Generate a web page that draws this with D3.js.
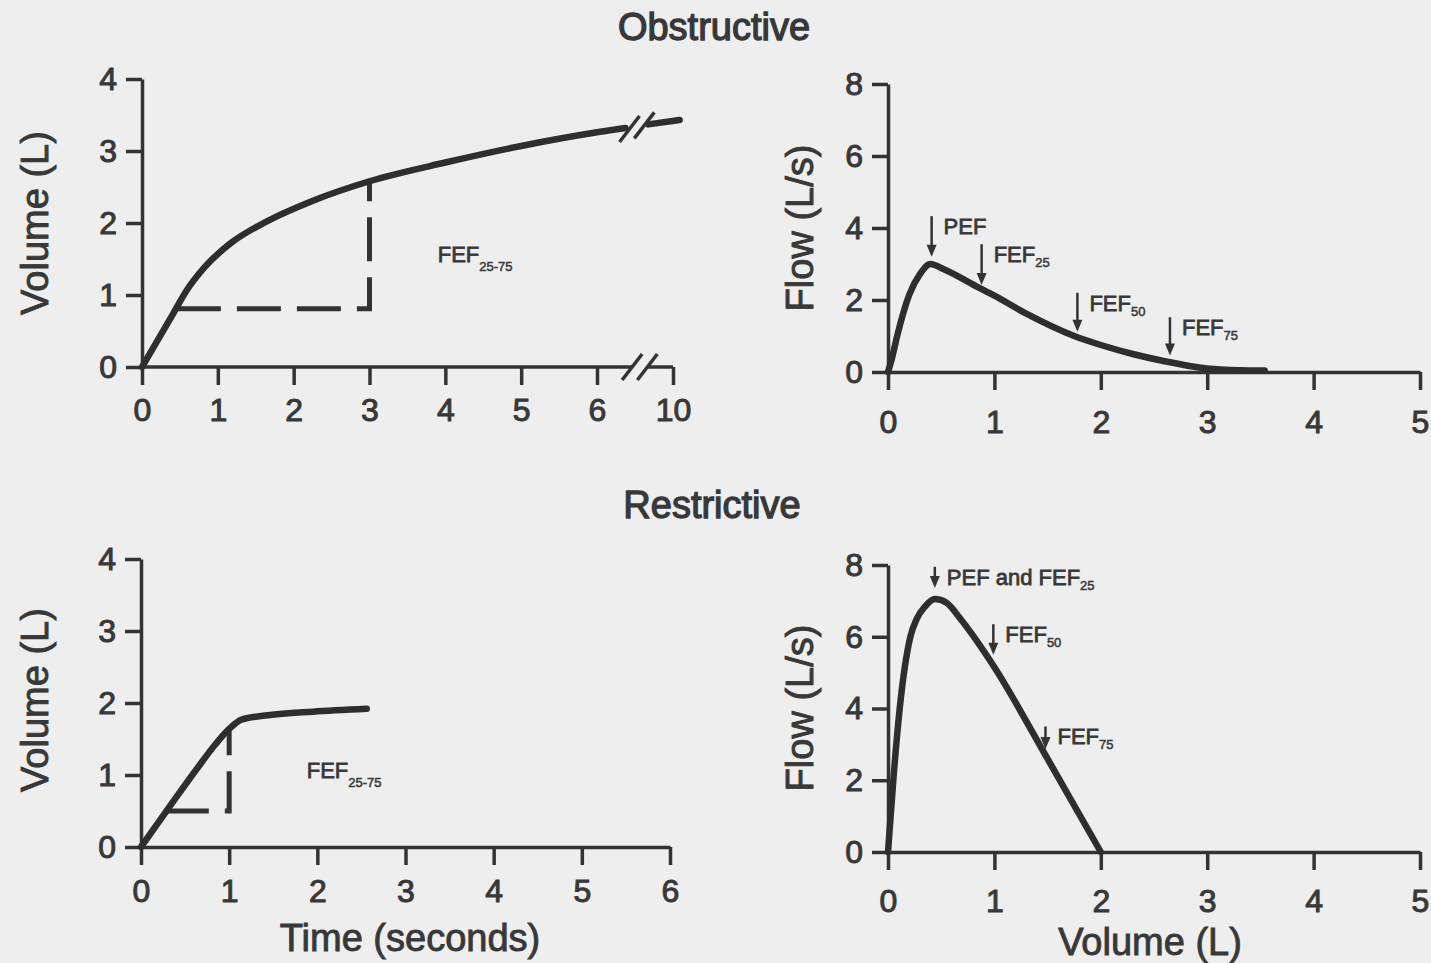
<!DOCTYPE html>
<html lang="en">
<head>
<meta charset="UTF-8">
<script src="https://d3js.org/d3.v7.min.js"></script>
<title>Spirometry: obstructive vs restrictive</title>
<style>
    body { margin: 0; background: #eeeeee; }
    svg text { font-family: "Liberation Sans", Arial, Helvetica, sans-serif; fill: #383838; }
    .axis path, .axis line { stroke: #333; stroke-width: 3.5px; }
    .axis text { font-size: 32px; fill: #383838; stroke: #383838; stroke-width: 1px; }
    .curve { fill: none; stroke: #2e2e2e; stroke-width: 6.5px; stroke-linecap: round; }
    .dash { fill: none; stroke: #333; stroke-width: 5px; stroke-dasharray: 44 16; }
    .title { font-size: 38px; stroke: #383838; stroke-width: 1.3px; }
    .label { font-size: 38px; stroke: #383838; stroke-width: 0.9px; }
    .note { font-size: 22px; stroke: #383838; stroke-width: 0.8px; }
    .sub { font-size: 13px; stroke-width: 0.5px; }
</style>
</head>
<body>
<script>
// ---- data ----
// Obstructive, volume-time (seconds, litres); axis breaks between 6 and 10 s
var obsTime = [0, 0.4, 0.58, 0.82, 1.17, 1.64, 2.23, 3.0, 4.0, 5.0, 6.0, 7.5];
var obsVolume = [0, 0.72, 1.05, 1.38, 1.72, 2.02, 2.3, 2.58, 2.84, 3.07, 3.26, 3.32];
var obsTailTime = [8.7, 10.35];
var obsTailVolume = [3.37, 3.43];
var obsTimeTicks = [0, 1, 2, 3, 4, 5, 6, 10];
var obsFef = { t0: 0.46, t1: 3.0, v0: 0.81, v1: 2.58 };

// Obstructive, flow-volume
var obsFvVolume = [0, 0.03, 0.09, 0.2, 0.3, 0.4, 0.52, 0.85, 1.0, 1.3, 1.75, 2.0, 2.3, 2.6, 3.0, 3.3, 3.54];
var obsFvFlow = [0, 0.3, 1.05, 2.15, 2.72, 3.0, 2.86, 2.35, 2.12, 1.62, 1.0, 0.75, 0.5, 0.3, 0.1, 0.05, 0.04];
var obsMarkText = ["PEF", "FEF", "FEF", "FEF"];
var obsMarkSub = ["", "25", "50", "75"];
var obsMarkVol = [0.41, 0.88, 1.78, 2.65];
var obsMarkTop = [4.33, 3.55, 2.2, 1.52];
var obsMarkTip = [3.2, 2.42, 1.12, 0.46];

// Restrictive, volume-time
var resTime = [0, 0.33, 0.63, 0.84, 1.0, 1.14, 1.44, 1.95, 2.56];
var resVolume = [0, 0.57, 1.08, 1.42, 1.64, 1.77, 1.83, 1.88, 1.92];
var resTimeTicks = [0, 1, 2, 3, 4, 5, 6];
var resFef = { t0: 0.27, t1: 1.0, v0: 0.5, v1: 1.64 };

// Restrictive, flow-volume
var resFvVolume = [0, 0.02, 0.05, 0.11, 0.21, 0.27, 0.35, 0.44, 0.55, 0.68, 1.0, 1.48, 2.0];
var resFvFlow = [0, 0.8, 2.0, 4.0, 6.0, 6.5, 6.85, 7.05, 6.95, 6.5, 5.15, 2.7, 0];
var resMarkText = ["PEF and FEF", "FEF", "FEF"];
var resMarkSub = ["25", "50", "75"];
var resMarkVol = [0.44, 0.99, 1.48];
var resMarkTop = [7.95, 6.35, 3.5];
var resMarkTip = [7.36, 5.5, 2.87];

var volTicks = [0, 1, 2, 3, 4];
var flowTicks = [0, 2, 4, 6, 8];
var fvVolTicks = [0, 1, 2, 3, 4, 5];

var width = 1431, height = 963;
var fmt = d3.format("d");

var svg = d3.select("body").append("svg")
    .attr("width", width)
    .attr("height", height);

svg.append("rect").attr("width", width).attr("height", height).attr("fill", "#eeeeee");

var line = d3.line().curve(d3.curveMonotoneX);

// draws axes for a panel, returns the group
function drawAxes(x, y, xTicks, yTicks, labelPad, opts) {
    opts = opts || {};
    var g = svg.append("g");
    var xAxis = d3.axisBottom(x).tickValues(xTicks).tickFormat(fmt)
        .tickSize(18).tickSizeOuter(0).tickPadding(labelPad);
    var gx = g.append("g").attr("class", "axis")
        .attr("transform", "translate(0," + y(0) + ")")
        .call(xAxis);
    if (opts.breakAt) {
        // broken axis: drop the domain line and draw two pieces
        gx.select(".domain").remove();
        gx.append("line").attr("x1", x(0)).attr("x2", x(opts.breakAt[0]));
        gx.append("line").attr("x1", x(opts.breakAt[1])).attr("x2", x(xTicks[xTicks.length - 1]));
        opts.breakAt.forEach(function (b) { slash(gx, x(b), 0); });
    }
    g.append("g").attr("class", "axis")
        .attr("transform", "translate(" + x(0) + ",0)")
        .call(d3.axisLeft(y).tickValues(yTicks).tickFormat(fmt)
            .tickSize(16).tickSizeOuter(0).tickPadding(9));
    g.selectAll(".axis text").attr("font-family", null).attr("font-size", null);
    return g;
}

function slash(g, cx, cy) {
    g.append("line")
        .attr("x1", cx - 10).attr("y1", cy + 13)
        .attr("x2", cx + 10).attr("y2", cy - 13)
        .attr("stroke", "#333").attr("stroke-width", 3.5);
}

function fefLabel(g, x, y, t, v) {
    var txt = g.append("text").attr("class", "note").attr("x", x(t)).attr("y", y(v)).text("FEF");
    txt.append("tspan").attr("class", "sub").attr("dy", 9).text("25-75");
}

function marks(g, x, y, text, sub, vol, top, tip) {
    vol.forEach(function (v, i) {
        var cx = x(v), y0 = y(top[i]), y1 = y(tip[i]);
        g.append("line").attr("x1", cx).attr("x2", cx).attr("y1", y0).attr("y2", y1 - 8)
            .attr("stroke", "#333").attr("stroke-width", 2.5);
        g.append("path")
            .attr("d", "M" + cx + "," + y1 + "L" + (cx - 5) + "," + (y1 - 12) + "L" + (cx + 5) + "," + (y1 - 12) + "Z")
            .attr("fill", "#333");
        var t = g.append("text").attr("class", "note").attr("x", cx + 12).attr("y", y0 + 18).text(text[i]);
        if (sub[i]) t.append("tspan").attr("class", "sub").attr("dy", 5).text(sub[i]);
    });
}

function yTitle(text, cx, cy) {
    svg.append("text").attr("class", "label")
        .attr("transform", "translate(" + cx + "," + cy + ") rotate(-90)")
        .attr("text-anchor", "middle").attr("dy", "0.35em").text(text);
}

function centerText(cls, text, cx, cy) {
    svg.append("text").attr("class", cls).attr("x", cx).attr("y", cy)
        .attr("text-anchor", "middle").attr("dy", "0.35em").text(text);
}

/*** Obstructive: volume-time ***/
var x1 = d3.scaleLinear().domain([0, 6, 10]).range([142, 597, 673]);
var y1 = d3.scaleLinear().domain([0, 4]).range([367, 79]);
var g1 = drawAxes(x1, y1, obsTimeTicks, volTicks, 13, { breakAt: [7.85, 8.65] });
g1.append("path").attr("class", "dash")
    .attr("d", line([[x1(obsFef.t0), y1(obsFef.v0)], [x1(obsFef.t1), y1(obsFef.v0)]]) +
        "L" + x1(obsFef.t1) + "," + y1(obsFef.v1))
    .attr("stroke-linejoin", "miter");
g1.append("path").attr("class", "curve")
    .attr("d", line(obsTime.map(function (t, i) { return [x1(t), y1(obsVolume[i])]; })));
g1.append("path").attr("class", "curve")
    .attr("d", line(obsTailTime.map(function (t, i) { return [x1(t), y1(obsTailVolume[i])]; })));
slash(g1, x1(obsTime[obsTime.length - 1]) + 4, y1(obsVolume[obsVolume.length - 1]) + 1);
slash(g1, x1(obsTailTime[0]) - 4, y1(obsTailVolume[0]) + 1);
fefLabel(g1, x1, y1, 3.9, 1.46);

/*** Obstructive: flow-volume ***/
var x2 = d3.scaleLinear().domain([0, 5]).range([888, 1420]);
var y2 = d3.scaleLinear().domain([0, 8]).range([372, 84]);
var g2 = drawAxes(x2, y2, fvVolTicks, flowTicks, 20);
g2.append("path").attr("class", "curve")
    .attr("d", line(obsFvVolume.map(function (v, i) { return [x2(v), y2(obsFvFlow[i])]; })));
marks(g2, x2, y2, obsMarkText, obsMarkSub, obsMarkVol, obsMarkTop, obsMarkTip);

/*** Restrictive: volume-time ***/
var x3 = d3.scaleLinear().domain([0, 6]).range([141, 670]);
var y3 = d3.scaleLinear().domain([0, 4]).range([847, 559]);
var g3 = drawAxes(x3, y3, resTimeTicks, volTicks, 14);
g3.append("path").attr("class", "dash")
    .attr("d", line([[x3(resFef.t0), y3(resFef.v0)], [x3(resFef.t1), y3(resFef.v0)]]) +
        "L" + x3(resFef.t1) + "," + y3(resFef.v1));
g3.append("path").attr("class", "curve")
    .attr("d", line(resTime.map(function (t, i) { return [x3(t), y3(resVolume[i])]; })));
fefLabel(g3, x3, y3, 1.88, 0.96);

/*** Restrictive: flow-volume ***/
var x4 = d3.scaleLinear().domain([0, 5]).range([888, 1420]);
var y4 = d3.scaleLinear().domain([0, 8]).range([852, 565]);
var g4 = drawAxes(x4, y4, fvVolTicks, flowTicks, 19);
g4.append("path").attr("class", "curve")
    .attr("d", line(resFvVolume.map(function (v, i) { return [x4(v), y4(resFvFlow[i])]; })));
marks(g4, x4, y4, resMarkText, resMarkSub, resMarkVol, resMarkTop, resMarkTip);

// titles and axis labels
centerText("title", "Obstructive", 714, 27);
centerText("title", "Restrictive", 712, 505);
yTitle("Volume (L)", 35, 223);
yTitle("Volume (L)", 35, 700);
yTitle("Flow (L/s)", 800, 228);
yTitle("Flow (L/s)", 800, 708);
centerText("label", "Time (seconds)", 410, 938);
centerText("label", "Volume (L)", 1150, 942);
</script>
</body>
</html>
